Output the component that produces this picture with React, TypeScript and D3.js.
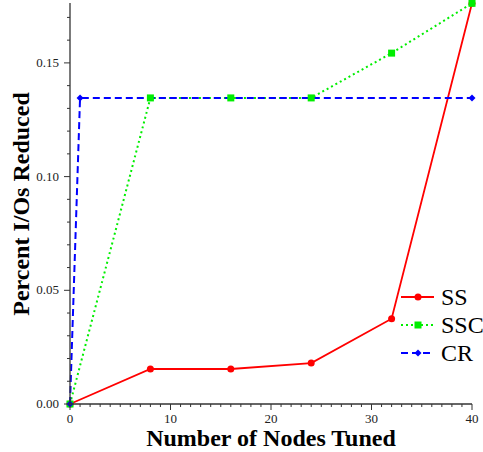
import React from "react";
import * as d3 from "d3";

const xNodes = [0, 8, 16, 24, 32, 40];
const ssValues = [0, 0.0154, 0.0154, 0.018, 0.0375, 0.1762];
const sscValues = [0, 0.1346, 0.1346, 0.1346, 0.1543, 0.1762];
const crX = [0, 1, 40];
const crValues = [0, 0.1346, 0.1346];
const xTicks = [0, 10, 20, 30, 40];
const yTicks = [0, 0.05, 0.1, 0.15];
const seriesNames = ["SS", "SSC", "CR"];
const seriesColors = ["#ff0000", "#00ee00", "#0000ff"];

const W = 483;
const H = 452;
const left = 70;
const right = 472;
const bottom = 404;
const top = 3;

export default function App() {
  const x = d3.scaleLinear().domain([0, 40]).range([left, right]);
  const y = d3.scaleLinear().domain([0, 0.05]).range([bottom, bottom - 113.7]);
  const yTopVal = y.invert(top);
  const line = d3
    .line<[number, number]>()
    .x((d) => x(d[0]))
    .y((d) => y(d[1]));
  const ss: [number, number][] = xNodes.map((v, i) => [v, ssValues[i]]);
  const ssc: [number, number][] = xNodes.map((v, i) => [v, sscValues[i]]);
  const cr: [number, number][] = crX.map((v, i) => [v, crValues[i]]);
  const xMinor = d3.range(0, 41, 1);
  const yMinor = d3.range(0, yTopVal, 0.01);
  const font = "Liberation Serif, Times New Roman, serif";
  const diamond = (cx: number, cy: number, r: number) =>
    `M${cx},${cy - r}L${cx + r},${cy}L${cx},${cy + r}L${cx - r},${cy}Z`;

  const legendY = [297, 325, 353];
  return (
    <svg
      width={W}
      height={H}
      style={{ position: "absolute", left: 0, top: 0, background: "#fff" }}
    >
      {/* series */}
      <path d={line(ss) || ""} fill="none" stroke={seriesColors[0]} strokeWidth={1.8} />
      <path
        d={line(ssc) || ""}
        fill="none"
        stroke={seriesColors[1]}
        strokeWidth={2}
        strokeDasharray="2,3"
      />
      <path
        d={line(cr) || ""}
        fill="none"
        stroke={seriesColors[2]}
        strokeWidth={2}
        strokeDasharray="7,4"
      />
      {ss.map((d, i) => (
        <circle key={"ss" + i} cx={x(d[0])} cy={y(d[1])} r={3.5} fill={seriesColors[0]} />
      ))}
      {ssc.map((d, i) => (
        <rect
          key={"ssc" + i}
          x={x(d[0]) - 3.5}
          y={y(d[1]) - 3.5}
          width={7}
          height={7}
          fill={seriesColors[1]}
        />
      ))}
      {cr.map((d, i) => (
        <path key={"cr" + i} d={diamond(x(d[0]), y(d[1]), 3.5)} fill={seriesColors[2]} />
      ))}

      {/* axes */}
      <line x1={left} x2={left} y1={top} y2={bottom} stroke="#333" strokeWidth={1.3} />
      <line x1={left} x2={right} y1={bottom} y2={bottom} stroke="#333" strokeWidth={1.3} />
      {xMinor.map((v) => (
        <line
          key={"xm" + v}
          x1={x(v)}
          x2={x(v)}
          y1={bottom}
          y2={bottom + (v % 10 === 0 ? 6 : 3)}
          stroke="#333"
          strokeWidth={1}
        />
      ))}
      {yMinor.map((v, i) => (
        <line
          key={"ym" + i}
          x1={left}
          x2={left - (i % 5 === 0 ? 6 : 3)}
          y1={y(v)}
          y2={y(v)}
          stroke="#333"
          strokeWidth={1}
        />
      ))}
      {xTicks.map((v) => (
        <text
          key={"xt" + v}
          x={x(v)}
          y={bottom + 19}
          textAnchor="middle"
          fontFamily={font}
          fontSize={13}
          fill="#222"
        >
          {v}
        </text>
      ))}
      {yTicks.map((v) => (
        <text
          key={"yt" + v}
          x={left - 11}
          y={y(v) + 4}
          textAnchor="end"
          fontFamily={font}
          fontSize={13}
          fill="#222"
        >
          {v.toFixed(2)}
        </text>
      ))}
      <text
        x={271}
        y={446}
        textAnchor="middle"
        fontFamily={font}
        fontSize={24}
        fontWeight="bold"
      >
        Number of Nodes Tuned
      </text>
      <text
        transform={`translate(29,204) rotate(-90)`}
        textAnchor="middle"
        fontFamily={font}
        fontSize={24}
        fontWeight="bold"
      >
        Percent I/Os Reduced
      </text>

      {/* legend */}
      {seriesNames.map((n, i) => (
        <g key={"lg" + n}>
          <line
            x1={401}
            x2={434}
            y1={legendY[i]}
            y2={legendY[i]}
            stroke={seriesColors[i]}
            strokeWidth={i === 0 ? 1.8 : 2}
            strokeDasharray={i === 0 ? undefined : i === 1 ? "2,3" : "7,4"}
          />
          {i === 0 && <circle cx={418} cy={legendY[i]} r={3.5} fill={seriesColors[0]} />}
          {i === 1 && (
            <rect x={414.5} y={legendY[i] - 3.5} width={7} height={7} fill={seriesColors[1]} />
          )}
          {i === 2 && <path d={diamond(418, legendY[i], 3.5)} fill={seriesColors[2]} />}
          <text
            x={441}
            y={legendY[i] + 8}
            fontFamily={font}
            fontSize={24}
            fill="#000"
          >
            {n}
          </text>
        </g>
      ))}
    </svg>
  );
}
